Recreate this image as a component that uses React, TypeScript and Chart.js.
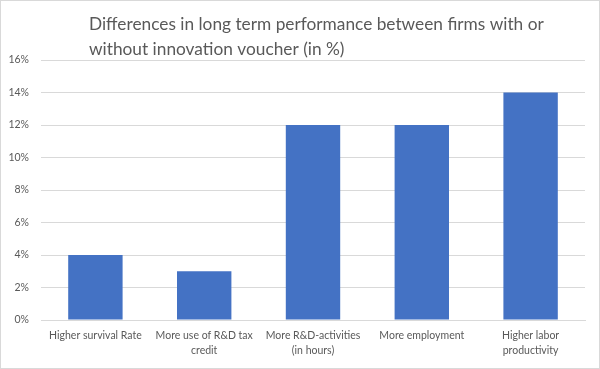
import React, { useEffect, useRef } from "react";
import { Chart, registerables } from "chart.js";

Chart.register(...registerables);

const titleLines = [
  "Differences in long term performance between firms with or",
  "without innovation voucher (in %)",
];
const categories: string[][] = [
  ["Higher survival Rate"],
  ["More use of R&D tax", "credit"],
  ["More R&D-activities", "(in hours)"],
  ["More employment"],
  ["Higher labor", "productivity"],
];
const values = [4, 3, 12, 12, 14];
const yTicks = [0, 2, 4, 6, 8, 10, 12, 14, 16];

const FONT = "Lato, 'Noto Sans', sans-serif";

const titlePlugin = {
  id: "leftTitle",
  afterDraw(chart: any) {
    const ctx = chart.ctx;
    ctx.save();
    ctx.fillStyle = "#595959";
    ctx.font = `17.3px ${FONT}`;
    ctx.textAlign = "left";
    ctx.textBaseline = "alphabetic";
    titleLines.forEach((line, i) => {
      ctx.fillText(line, 88, 29 + i * 25);
    });
    ctx.restore();
  },
};

export default function App() {
  const ref = useRef<HTMLCanvasElement>(null);
  useEffect(() => {
    if (!ref.current) return;
    const chart = new Chart(ref.current, {
      type: "bar",
      data: {
        labels: categories,
        datasets: [
          {
            data: values,
            backgroundColor: "#4472C4",
            barPercentage: 0.5,
            categoryPercentage: 1,
          },
        ],
      },
      plugins: [titlePlugin],
      options: {
        animation: false,
        responsive: false,
        maintainAspectRatio: false,
        layout: { padding: { top: 59, right: 14, left: 0, bottom: 0 } },
        plugins: {
          legend: { display: false },
          title: { display: false },
          tooltip: { enabled: false },
        },
        scales: {
          x: {
            grid: { display: false, drawTicks: false },
            border: { display: true, color: "#d9d9d9" },
            ticks: {
              color: "#595959",
              font: { family: FONT, size: 10.5, lineHeight: 1.45 },
              padding: 8,
              maxRotation: 0,
              autoSkip: false,
            },
            afterFit: (s: any) => {
              s.height = 48;
            },
          },
          y: {
            min: 0,
            max: 16,
            afterBuildTicks: (s: any) => {
              s.ticks = yTicks.map((v) => ({ value: v }));
            },
            grid: { color: "#d9d9d9", drawTicks: false },
            border: { display: false },
            ticks: {
              color: "#595959",
              font: { family: FONT, size: 10.5 },
              padding: 12,
              callback: (v: any) => `${v}%`,
            },
            afterFit: (s: any) => {
              s.width = 40;
            },
          },
        },
      },
    });
    return () => chart.destroy();
  }, []);
  return (
    <div
      style={{
        position: "absolute",
        left: 0,
        top: 0,
        width: 600,
        height: 369,
        boxSizing: "border-box",
        border: "1px solid #d9d9d9",
        background: "#fff",
      }}
    >
      <canvas
        ref={ref}
        width={598}
        height={367}
        style={{ display: "block", width: 598, height: 367 }}
      />
    </div>
  );
}
